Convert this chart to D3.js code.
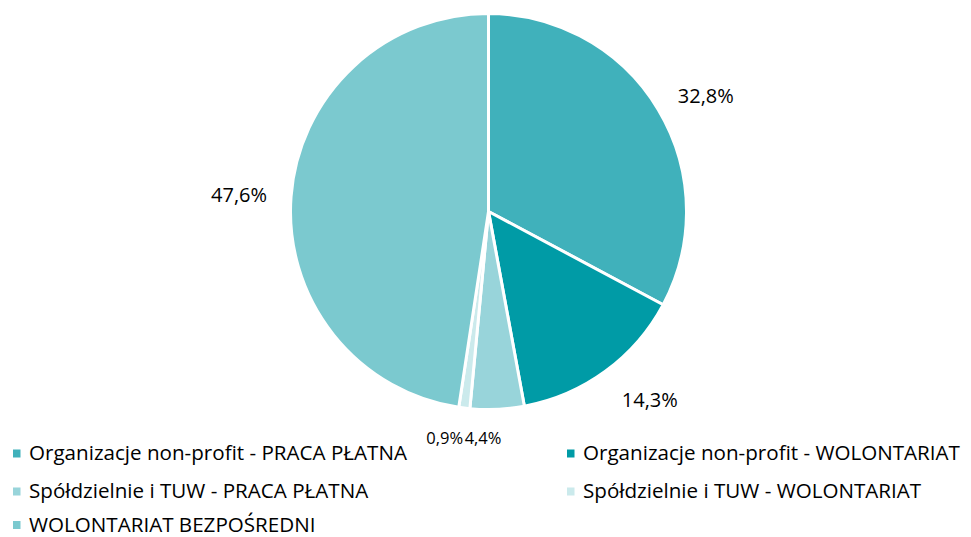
<!DOCTYPE html>
<html>
<head>
<meta charset="utf-8">
<script src="https://cdn.jsdelivr.net/npm/d3@7"></script>
<style>
  body { margin: 0; background: #fff; }
  svg text { font-family: "Open Sans", "Liberation Sans", Arial, sans-serif; fill: #000; }
</style>
</head>
<body>
<svg width="971" height="537"></svg>
<script>
var categories = [
  "Organizacje non-profit - PRACA PŁATNA",
  "Organizacje non-profit - WOLONTARIAT",
  "Spółdzielnie i TUW - PRACA PŁATNA",
  "Spółdzielnie i TUW - WOLONTARIAT",
  "WOLONTARIAT BEZPOŚREDNI"
];
var values = [32.8, 14.3, 4.4, 0.9, 47.6];
var colors = ["#40B1BB", "#009BA6", "#98D4DA", "#CBEAEC", "#7BC9CF"];

// where the data labels sit: extra distance past the rim, and a small turn (degrees)
var labelGap = [48, 50, 29, 33, 52];
var labelTurn = [3, -4.4, 3.9, 3.9, -0.5];

var svg = d3.select("svg"),
    width = +svg.attr("width"),
    height = +svg.attr("height");

var cx = 488.5, cy = 211.5, r = 198;

var pie = d3.pie().sort(null).value(function(d){ return d; });
var arcs = pie(values);
var arc = d3.arc().innerRadius(0).outerRadius(r);

var g = svg.append("g").attr("transform", "translate(" + cx + "," + cy + ")");

g.selectAll("path")
  .data(arcs)
  .enter()
  .append("path")
    .attr("d", arc)
    .attr("fill", function(d, i){ return colors[i]; })
    .attr("stroke", "#fff")
    .attr("stroke-width", 3)
    .attr("stroke-linejoin", "round");

function fmt(v) { return v.toFixed(1).replace(".", ",") + "%"; }
function labelPos(d) {
  var a = (d.startAngle + d.endAngle) / 2 + labelTurn[d.index] * Math.PI / 180;
  var off = r + labelGap[d.index];
  return [Math.sin(a) * off, -Math.cos(a) * off];
}

g.selectAll("text.lbl")
  .data(arcs)
  .enter()
  .append("text")
    .attr("class", "lbl")
    .attr("font-size", function(d){ return d.data < 5 ? 16.5 : 20; })
    .attr("text-anchor", "middle")
    .attr("dy", function(d){ return d.data < 5 ? 6 : 7; })
    .attr("x", function(d){ return labelPos(d)[0]; })
    .attr("y", function(d){ return labelPos(d)[1]; })
    .text(function(d){ return fmt(d.data); });

// legend
var legendCols = [13, 567], legendRows = [453.5, 491.5, 525];
var leg = svg.append("g").selectAll("g")
  .data(categories)
  .enter()
  .append("g")
    .attr("transform", function(d, i){
      return "translate(" + legendCols[i % 2] + "," + legendRows[Math.floor(i / 2)] + ")";
    });
leg.append("rect")
  .attr("x", 0).attr("y", -4)
  .attr("width", 7.5).attr("height", 8)
  .attr("fill", function(d, i){ return colors[i]; });
leg.append("text")
  .attr("x", 16)
  .attr("dy", 6.5)
  .attr("font-size", 20.6)
  .text(function(d){ return d; });
</script>
</body>
</html>
